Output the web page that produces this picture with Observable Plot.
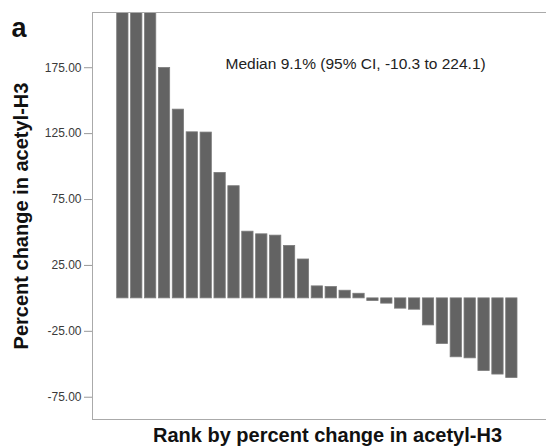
<!DOCTYPE html>
<html>
<head>
<meta charset="utf-8">
<script src="https://cdn.jsdelivr.net/npm/d3@7"></script>
<script src="https://cdn.jsdelivr.net/npm/@observablehq/plot@0.6"></script>
<style>
  html, body { margin: 0; padding: 0; background: #fff; }
  #chart { position: relative; width: 546px; height: 446px; }
</style>
</head>
<body>
<div id="chart"></div>
<script>
// Ranks (1..29) and percent change in acetyl-H3 (first three bars exceed the plotted range)
const ranks = d3.range(1, 30);
const values = [330, 280, 240, 174.8, 143.2, 126.0, 125.8, 95.2, 85.1, 50.6,
                48.6, 47.6, 39.8, 29.5, 9.1, 8.6, 5.8, 3.5, -2.0, -4.0,
                -7.8, -8.6, -20.5, -34.6, -44.7, -45.5, -55.1, -57.8, -60.4];
const yTicks = [175, 125, 75, 25, -25, -75];
const yDomain = [-91.9, 216.9];
const panelLabel = "a";
const yLabel = "Percent change in acetyl-H3";
const xLabel = "Rank by percent change in acetyl-H3";
const note = "Median 9.1% (95% CI, -10.3 to 224.1)";

const data = ranks.map((r, i) => ({rank: r, value: values[i]}));
const font = "'Liberation Sans', Arial, sans-serif";

const chart = Plot.plot({
  width: 546,
  height: 446,
  marginLeft: 92,
  marginRight: 0,
  marginTop: 12,
  marginBottom: 27,
  style: {fontFamily: font, background: "#fff"},
  x: {type: "band", domain: ranks, paddingInner: 0.187, paddingOuter: 0, round: false,
      insetLeft: 24.7, insetRight: 29, axis: null},
  y: {domain: yDomain, axis: null},
  marks: [
    Plot.barY(data, {x: "rank", y: "value", fill: "#636363", stroke: "#7c7c7c", strokeWidth: 0.8, clip: true}),
    Plot.axisY({ticks: yTicks, tickFormat: d => d.toFixed(2), tickSize: 8, tickPadding: 3,
                fontSize: 12, color: "#3a3a3a", stroke: "#999", label: null}),
    Plot.frame({anchor: "left", stroke: "#aaa"}),
    Plot.frame({anchor: "top", stroke: "#aaa"}),
    Plot.frame({anchor: "bottom", stroke: "#aaa"}),
    Plot.text([note], {frameAnchor: "top-left", dx: 133, dy: 45, text: d => d, textAnchor: "start",
                       fontSize: 15.5, fill: "#222", lineAnchor: "top"}),
    Plot.text([xLabel], {frameAnchor: "bottom", dx: 8, dy: 16, text: d => d, fontSize: 20,
                         fontWeight: "bold", fill: "#111", textAnchor: "middle", lineAnchor: "middle"}),
    Plot.text([yLabel], {frameAnchor: "left", dx: -71, dy: 0, text: d => d, fontSize: 20,
                         fontWeight: "bold", fill: "#111", rotate: -90, textAnchor: "middle", lineAnchor: "middle"}),
    Plot.text([panelLabel], {frameAnchor: "top-left", dx: -81, dy: 24, text: d => d, fontSize: 27,
                             fontWeight: "bold", fill: "#111", textAnchor: "start", lineAnchor: "bottom"})
  ]
});
document.getElementById("chart").appendChild(chart);
</script>
</body>
</html>
